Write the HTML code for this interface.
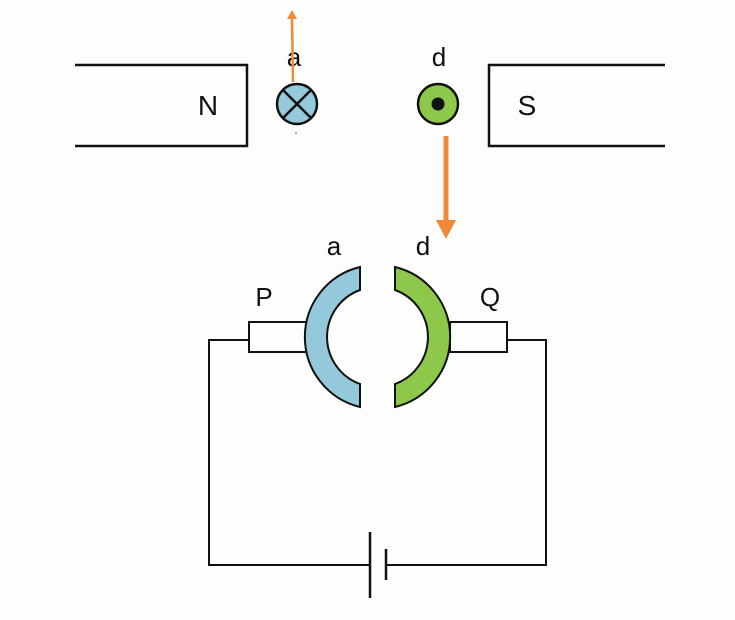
<!DOCTYPE html>
<html><head><meta charset="utf-8"><style>
html,body{margin:0;padding:0;background:#fdfdfb;}
svg{display:block;}
text{font-family:"Liberation Sans",Arial,sans-serif;fill:#111;}
</style></head><body>
<svg width="735" height="620" viewBox="0 0 735 620" xmlns="http://www.w3.org/2000/svg">
<rect width="735" height="620" fill="#fdfdfb"/>
<g fill="none" stroke="#111" stroke-width="2.5">
<polyline points="75,65 247,65 247,146 75,146"/>
<polyline points="665,65 489,65 489,146 665,146"/>
</g>
<text x="208" y="115" font-size="28" text-anchor="middle">N</text>
<text x="527" y="115" font-size="28" text-anchor="middle">S</text>
<text x="294" y="66" font-size="26" text-anchor="middle">a</text>
<text x="439" y="66" font-size="26" text-anchor="middle">d</text>
<circle cx="297" cy="104" r="20" fill="#94c9dc" stroke="#111" stroke-width="2.5"/>
<line x1="283" y1="90" x2="311" y2="118" stroke="#111" stroke-width="2.5"/>
<line x1="311" y1="90" x2="283" y2="118" stroke="#111" stroke-width="2.5"/>
<circle cx="296" cy="133" r="0.8" fill="#333"/>
<circle cx="438" cy="104" r="20" fill="#8dc84a" stroke="#111" stroke-width="2.5"/>
<circle cx="438" cy="104" r="6.5" fill="#111"/>
<line x1="293" y1="82" x2="292" y2="18" stroke="#f08a3a" stroke-width="2.5"/>
<polygon points="292,10 287,19 297,19" fill="#f08a3a"/>
<line x1="446" y1="136" x2="446" y2="222" stroke="#f08a3a" stroke-width="5"/>
<polygon points="436,220 456,220 446,239" fill="#f08a3a"/>
<text x="334" y="255" font-size="26" text-anchor="middle">a</text>
<text x="423" y="255" font-size="26" text-anchor="middle">d</text>
<text x="264" y="306" font-size="26" text-anchor="middle">P</text>
<text x="490" y="306" font-size="26" text-anchor="middle">Q</text>
<g fill="none" stroke="#111" stroke-width="2">
<rect x="249" y="322" width="57" height="30"/>
<rect x="450" y="322" width="57" height="30"/>
<polyline points="249,340 209,340 209,565 370,565"/>
<polyline points="507,340 546,340 546,565 386,565"/>
</g>
<line x1="370" y1="532" x2="370" y2="598" stroke="#111" stroke-width="2.5"/>
<line x1="386" y1="549" x2="386" y2="580" stroke="#111" stroke-width="2.5"/>
<path d="M360,267 A72,72 0 0,0 360,407 L360,384 A50,50 0 0,1 360,290 Z" fill="#94c9dc" stroke="#111" stroke-width="2"/>
<path d="M395,267 A72,72 0 0,1 395,407 L395,384 A50,50 0 0,0 395,290 Z" fill="#8dc84a" stroke="#111" stroke-width="2"/>
</svg>
</body></html>
